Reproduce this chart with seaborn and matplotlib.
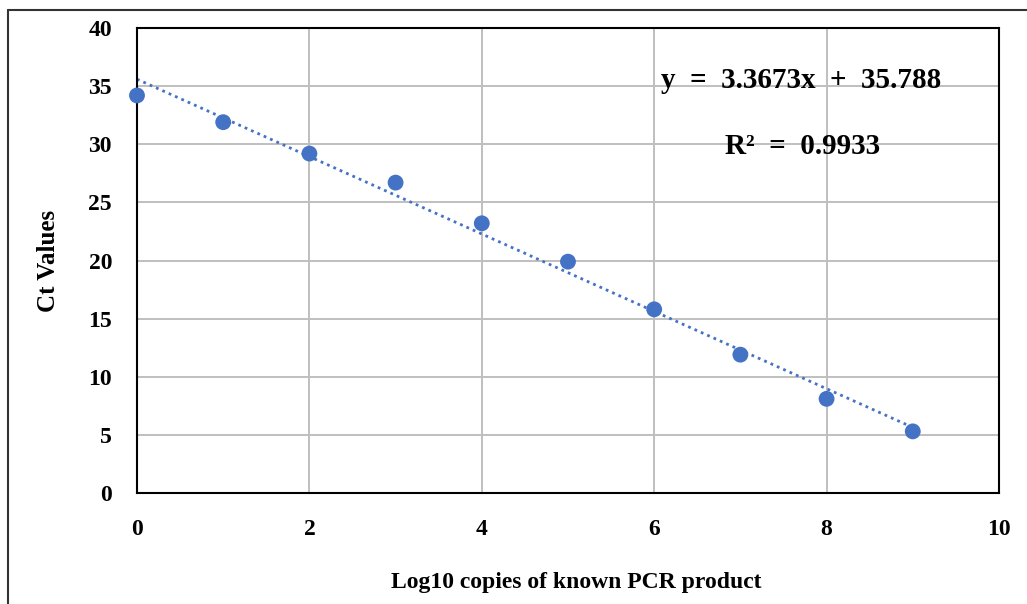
import matplotlib
matplotlib.use("Agg")
import matplotlib.pyplot as plt
import seaborn as sns
import pandas as pd
from matplotlib.lines import Line2D

# Data
log_copies = [0, 1, 2, 3, 4, 5, 6, 7, 8, 9]
ct_values = [34.2, 31.9, 29.2, 26.7, 23.2, 19.9, 15.8, 11.9, 8.1, 5.3]
x_ticks = [0, 2, 4, 6, 8, 10]
y_ticks = [0, 5, 10, 15, 20, 25, 30, 35, 40]
equation_text = "y  =  3.3673x  +  35.788"
r2_text = "R²  =  0.9933"

df = pd.DataFrame({"x": log_copies, "y": ct_values})

sns.set_theme(style="white")
plt.rcParams["font.family"] = ["Liberation Serif", "DejaVu Serif"]
plt.rcParams["text.color"] = "black"
plt.rcParams["axes.labelcolor"] = "black"
plt.rcParams["xtick.color"] = "black"
plt.rcParams["ytick.color"] = "black"

fig = plt.figure(figsize=(10.27, 6.04), dpi=100)
ax = fig.add_axes([0.1334, 0.1838, 0.8393, 0.7698])

blue = "#4472C4"
sns.regplot(data=df, x="x", y="y", ax=ax, ci=None,
            scatter_kws=dict(s=130, color=blue, alpha=1, edgecolor="none", zorder=3, clip_on=False),
            line_kws=dict(color=blue, linestyle=(0, (1, 1.5)), linewidth=2, zorder=2))

ax.set_xlim(0, 10)
ax.set_ylim(0, 40)
ax.set_xticks(x_ticks)
ax.set_yticks(y_ticks)
ax.grid(True, color="#BFBFBF", linewidth=1.4)
ax.set_axisbelow(True)
for s in ax.spines.values():
    s.set_visible(True)
    s.set_color("black")
    s.set_linewidth(1.5)
ax.tick_params(axis="both", length=0, labelsize=17)
ax.tick_params(axis="y", pad=18)
ax.tick_params(axis="x", pad=19)
for lbl in ax.get_xticklabels() + ax.get_yticklabels():
    lbl.set_fontweight("bold")

ax.set_xlabel("Log10 copies of known PCR product", fontsize=17, fontweight="bold")
ax.set_ylabel("Ct Values", fontsize=18, fontweight="bold")
ax.xaxis.set_label_coords(0.51, -0.17)
ax.yaxis.set_label_coords(-0.089, 0.5)

ax.text(7.71, 35.5, equation_text, ha="center", va="center", fontsize=21, fontweight="bold")
ax.text(7.72, 29.8, r2_text, ha="center", va="center", fontsize=21, fontweight="bold")

# outer frame lines
W, H = 1027, 604
fig.add_artist(Line2D([8 / W, 1.0], [1 - 10 / H, 1 - 10 / H], color="#333333", linewidth=1.5,
                      transform=fig.transFigure))
fig.add_artist(Line2D([8 / W, 8 / W], [1 - 10 / H, 0.0], color="#333333", linewidth=1.5,
                      transform=fig.transFigure))

fig.savefig("out.png", dpi=100)
